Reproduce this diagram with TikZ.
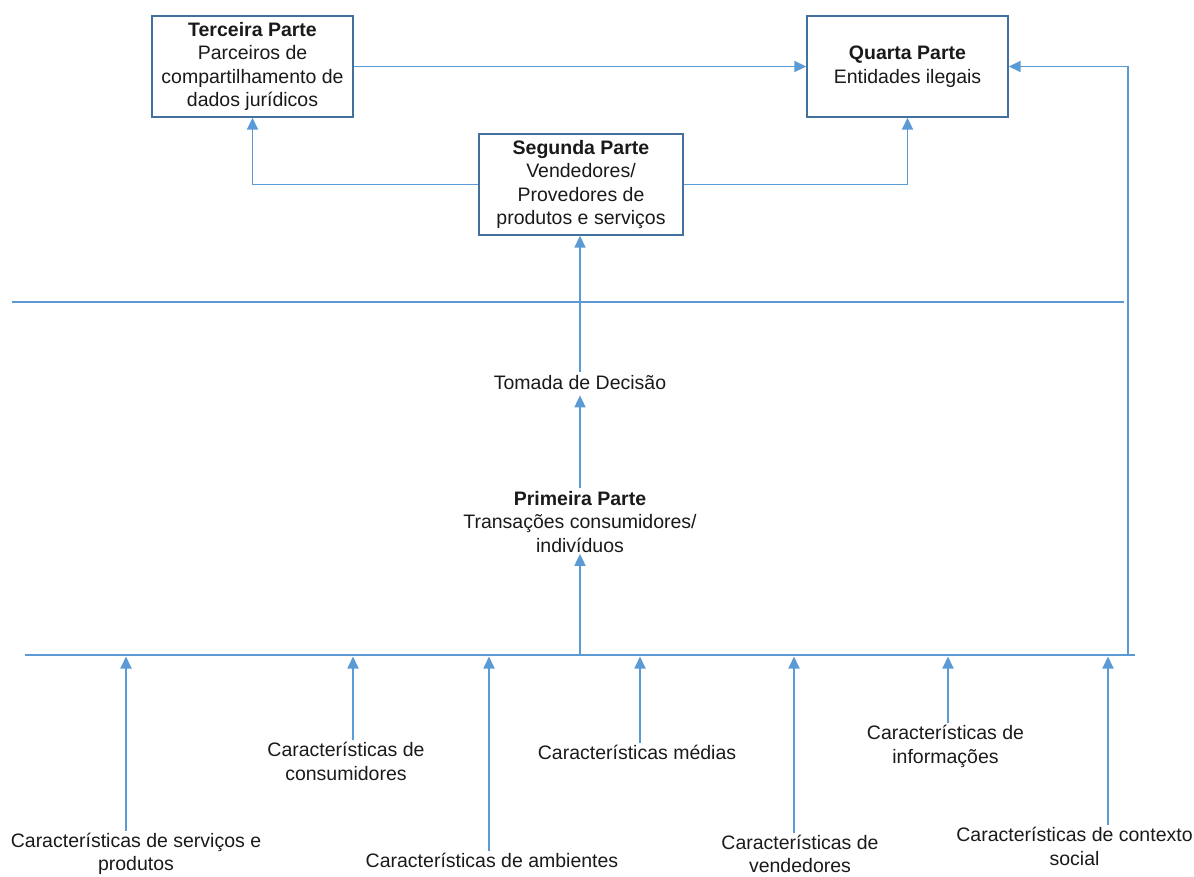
\documentclass[tikz,border=0pt]{standalone}
\usepackage{fontspec}
\setmainfont{Liberation Sans}
\usetikzlibrary{arrows.meta}
\definecolor{lineblue}{HTML}{5B9BD5}
\definecolor{boxedge}{HTML}{41719C}
\definecolor{ink}{HTML}{1A1A1A}

\begin{document}
\begin{tikzpicture}[x=1pt,y=-1pt,
  txt/.style={text=ink, font=\fontsize{19.5}{23.5}\selectfont, align=center, inner sep=0pt},
  partbox/.style={txt, draw=boxedge, line width=1.4pt, fill=white,
    minimum width=201pt, minimum height=101pt},
  link/.style={draw=lineblue, line width=1.8pt, -{Triangle[width=11pt,length=12pt]}},
  divider/.style={draw=lineblue, line width=2.6pt}]
\useasboundingbox (0,0) rectangle (1194,877);

% the four parties
\node[partbox] (third) at (252.5,66.5)
  {\textbf{Terceira Parte}\\Parceiros de\\compartilhamento de\\dados jurídicos};
\node[partbox] (fourth) at (907.5,66.5)
  {\textbf{Quarta Parte}\\Entidades ilegais};
\node[partbox, minimum width=204pt] (second) at (581,184.5)
  {\textbf{Segunda Parte}\\Vendedores/\\Provedores de\\produtos e serviços};
\node[txt] (decision) at (580,383) {Tomada de Decisão};
\node[txt] (first) at (580,522)
  {\textbf{Primeira Parte}\\Transações consumidores/\\indivíduos};

% characteristics feeding the bottom bar
\node[txt] (serv)   at (136,854)   {Características de serviços e\\produtos};
\node[txt] (cons)   at (346,761.5) {Características de\\consumidores};
\node[txt] (amb)    at (492,860)   {Características de ambientes};
\node[txt] (med)    at (637,752)   {Características médias};
\node[txt] (vend)   at (800,854)   {Características de\\vendedores};
\node[txt] (info)   at (945.5,746.5) {Características de\\informações};
\node[txt] (social) at (1074.5,846.5) {Características de contexto\\social};

% bars
\coordinate (topL) at (12,302);
\coordinate (topR) at (1124,302);
\coordinate (botL) at (25,655);
\coordinate (botR) at (1135,655);
\coordinate (hub)  at (580,655);
\coordinate (riser) at (1128,655);
\draw[divider] (topL) -- (topR);
\draw[divider] (botL) -- (botR);

% entry points on the bottom bar
\coordinate (b1) at (126,655);
\coordinate (b2) at (353,655);
\coordinate (b3) at (489,655);
\coordinate (b4) at (640,655);
\coordinate (b5) at (794,655);
\coordinate (b6) at (948,655);
\coordinate (b7) at (1108,655);

\draw[link, shorten >=1.5pt] ([yshift=2pt]serv.north -| b1) -- (b1);
\draw[link, shorten >=1.5pt] ([yshift=2pt]cons.north -| b2) -- (b2);
\draw[link, shorten >=1.5pt] ([yshift=2pt]amb.north -| b3) -- (b3);
\draw[link, shorten >=1.5pt] ([yshift=2pt]med.north -| b4) -- (b4);
\draw[link, shorten >=1.5pt] ([yshift=2pt]vend.north -| b5) -- (b5);
\draw[link, shorten >=1.5pt] ([yshift=2pt]info.north -| b6) -- (b6);
\draw[link, shorten >=1.5pt] ([yshift=2pt]social.north -| b7) -- (b7);

% flow upwards through the decision
\draw[link, shorten >=1pt] (hub) -- (first.south);
\draw[link, shorten <=3pt, shorten >=5pt] (first.north) -- (decision.south);
\draw[link, shorten <=4pt] (decision.north) -- (decision.north |- second.south);

% links between parties
\draw[link] (third.east) -- (fourth.west);
\draw[link] (second.west) -| (third.south);
\draw[link] (second.east) -| (fourth.south);
\draw[link] (riser) |- (fourth.east);
\end{tikzpicture}
\end{document}
